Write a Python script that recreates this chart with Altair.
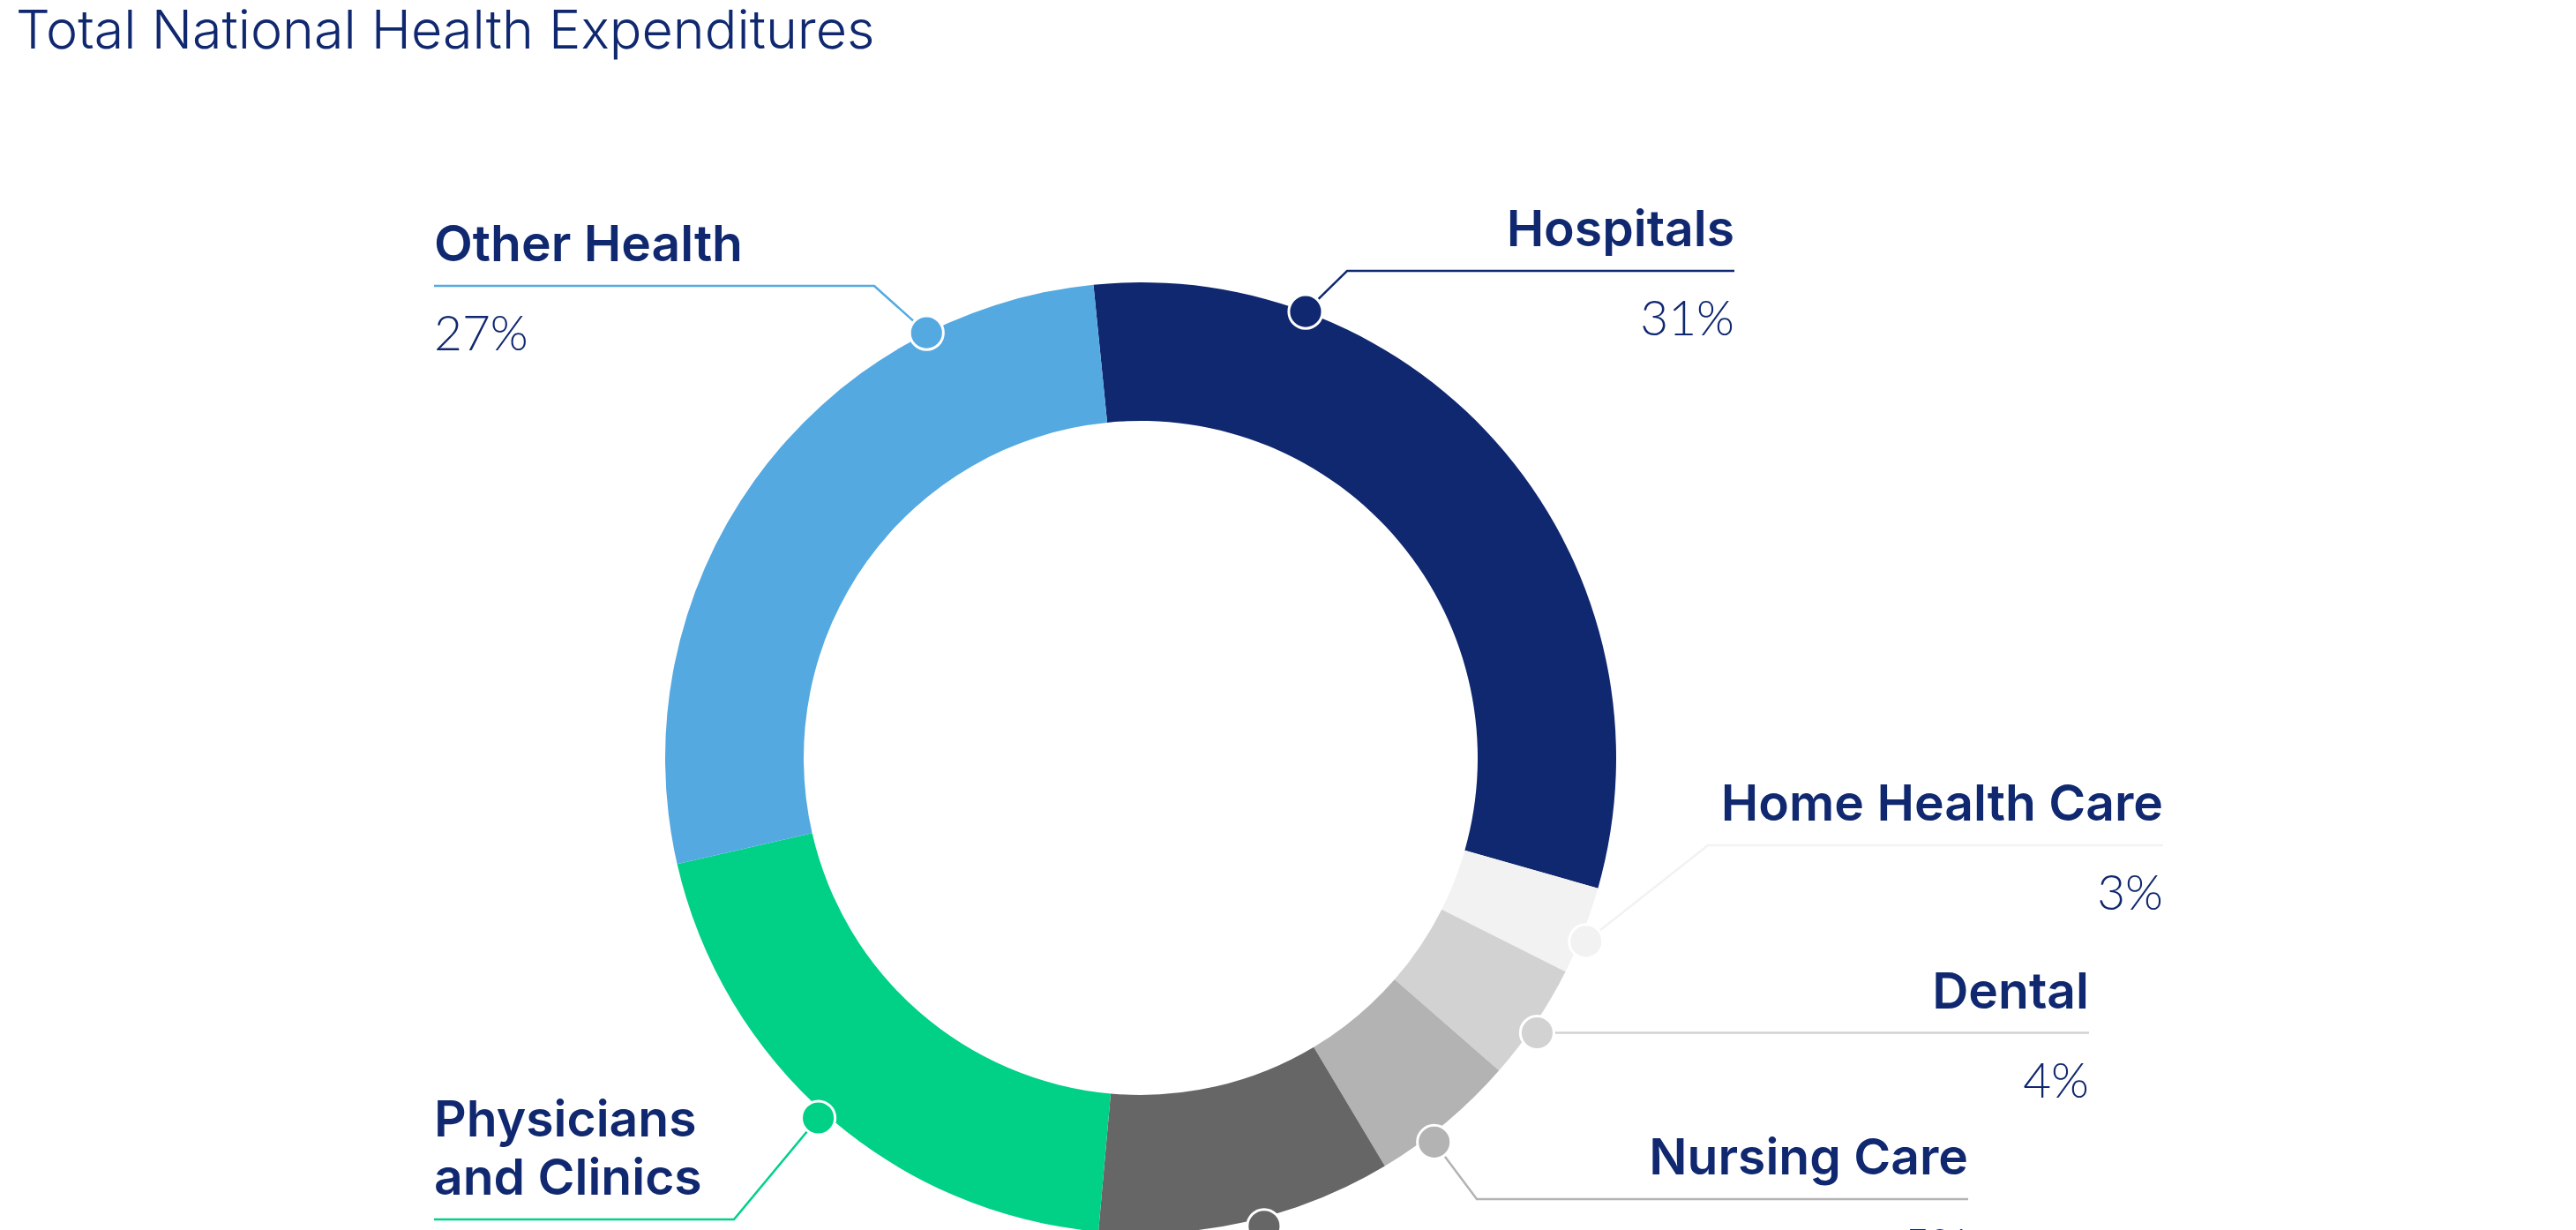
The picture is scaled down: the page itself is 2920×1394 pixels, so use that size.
import math
import altair as alt
import pandas as pd

# ---------------- data ----------------
categories = ["Hospitals", "Home Health Care", "Dental", "Nursing Care",
              "Prescription Drugs", "Physicians and Clinics", "Other Health"]
shares = [31, 3, 4, 5, 10, 20, 27]
display_names = ["Hospitals", "Home Health Care", "Dental", "Nursing Care",
                 "Prescription Drugs", "Physicians\nand Clinics", "Other Health"]
colors = ["#10286f", "#f2f2f2", "#d2d2d2", "#b3b3b3", "#666666", "#00d187", "#55a9e1"]
title_text = "Total National Health Expenditures"

# ---------------- layout (pixels inside the plot area) ----------------
NAME_FONT = "Inter"
PCT_FONT = "Lato"
NAVY = "#10286f"
W, H = 2570, 1542
CX, CY = W / 2, H / 2
R_OUT, R_IN, R_DOT = 539, 382, 544
DOT_DY = 5
START_DEG = -5.7
NAME_UP, PCT_DOWN, LINE_H = 28, 73, 66

label_layout = {
    "Hospitals": dict(side="right", line_y=219, elbow_x=1519, end_x=1958, shift=-30.0),
    "Home Health Care": dict(side="right", line_y=870, elbow_x=1928, end_x=2444, shift=0.6),
    "Dental": dict(side="right", line_y=None, elbow_x=None, end_x=2360, shift=0.4),
    "Nursing Care": dict(side="right", line_y=1271, elbow_x=1666, end_x=2223, shift=2.2),
    "Prescription Drugs": dict(side="right", line_y=1500, elbow_x=1500, end_x=1980, shift=-2.0),
    "Physicians and Clinics": dict(side="left", line_y=1294, elbow_x=824, end_x=484, shift=1.1),
    "Other Health": dict(side="left", line_y=236, elbow_x=983, end_x=484, shift=27.8),
}

# ---------------- derived tables ----------------
total = float(sum(shares))
arc_df = pd.DataFrame({"category": categories, "share": shares, "idx": list(range(len(categories)))})

dot_rows, line_rows, label_rows = [], [], []
cum = 0.0
for cat, val, name in zip(categories, shares, display_names):
    lay = label_layout[cat]
    mid = START_DEG + (cum + val / 2.0) / total * 360.0 + lay["shift"]
    cum += val
    a = math.radians(mid)
    px = CX + R_DOT * math.sin(a)
    py = CY + DOT_DY - R_DOT * math.cos(a)
    dot_rows.append(dict(category=cat, px=px, py=py))
    line_y = lay["line_y"] if lay["line_y"] is not None else py
    elbow_x = lay["elbow_x"] if lay["elbow_x"] is not None else px
    for seq, (lx, ly) in enumerate([(px, py), (elbow_x, line_y), (lay["end_x"], line_y)]):
        line_rows.append(dict(category=cat, seq=seq, lx=lx, ly=ly))
    n_lines = name.count("\n") + 1
    label_rows.append(dict(category=cat, name=name, pct=f"{val}%", side=lay["side"],
                           tx=lay["end_x"],
                           name_y=line_y - NAME_UP - LINE_H * (n_lines - 1),
                           pct_y=line_y + PCT_DOWN))

dot_df = pd.DataFrame(dot_rows)
line_df = pd.DataFrame(line_rows)
label_df = pd.DataFrame(label_rows)

color_scale = alt.Scale(domain=categories, range=colors)
start_rad = math.radians(START_DEG)

arcs = alt.Chart(arc_df).mark_arc(innerRadius=R_IN, outerRadius=R_OUT).encode(
    theta=alt.Theta("share:Q", stack=True,
                    scale=alt.Scale(range=[start_rad, start_rad + 2 * math.pi])),
    order=alt.Order("idx:Q"),
    color=alt.Color("category:N", scale=color_scale, legend=None),
)

lines = alt.Chart(line_df).mark_line(strokeWidth=2.5).encode(
    x=alt.X("lx:Q", scale=None, axis=None),
    y=alt.Y("ly:Q", scale=None, axis=None),
    order=alt.Order("seq:Q"),
    detail="category:N",
    color=alt.Color("category:N", scale=color_scale, legend=None),
)

dots = alt.Chart(dot_df).mark_circle(size=1452, opacity=1, strokeWidth=3).encode(
    x=alt.X("px:Q", scale=None, axis=None),
    y=alt.Y("py:Q", scale=None, axis=None),
    fill=alt.Fill("category:N", scale=color_scale, legend=None),
    stroke=alt.value("white"),
)

def text_layer(side, field, yfield, font, size, weight):
    return alt.Chart(label_df).transform_filter(f"datum.side == '{side}'").mark_text(
        align="right" if side == "right" else "left", baseline="alphabetic",
        font=font, fontSize=size, fontWeight=weight, color=NAVY,
        lineBreak="\n", lineHeight=LINE_H,
    ).encode(
        x=alt.X("tx:Q", scale=None, axis=None),
        y=alt.Y(f"{yfield}:Q", scale=None, axis=None),
        text=alt.Text(f"{field}:N"),
    )

texts = [text_layer(s, f, yf, fnt, sz, w) for s in ("right", "left")
         for (f, yf, fnt, sz, w) in (("name", "name_y", NAME_FONT, 57, 600),
                                     ("pct", "pct_y", PCT_FONT, 55, 300))]

chart = alt.layer(arcs, lines, dots, *texts).properties(
    width=W, height=H,
    padding={"left": 0, "top": 80, "right": 0, "bottom": 0},
    autosize=alt.AutoSizeParams(type="none"),
    title=alt.TitleParams(text=title_text, anchor="start", frame="group", font=NAME_FONT,
                          fontSize=61, fontWeight=300, color=NAVY, offset=20, dx=10),
).configure_view(stroke=None)

chart.save("out.html", embed_options={"renderer": "svg", "actions": False})
